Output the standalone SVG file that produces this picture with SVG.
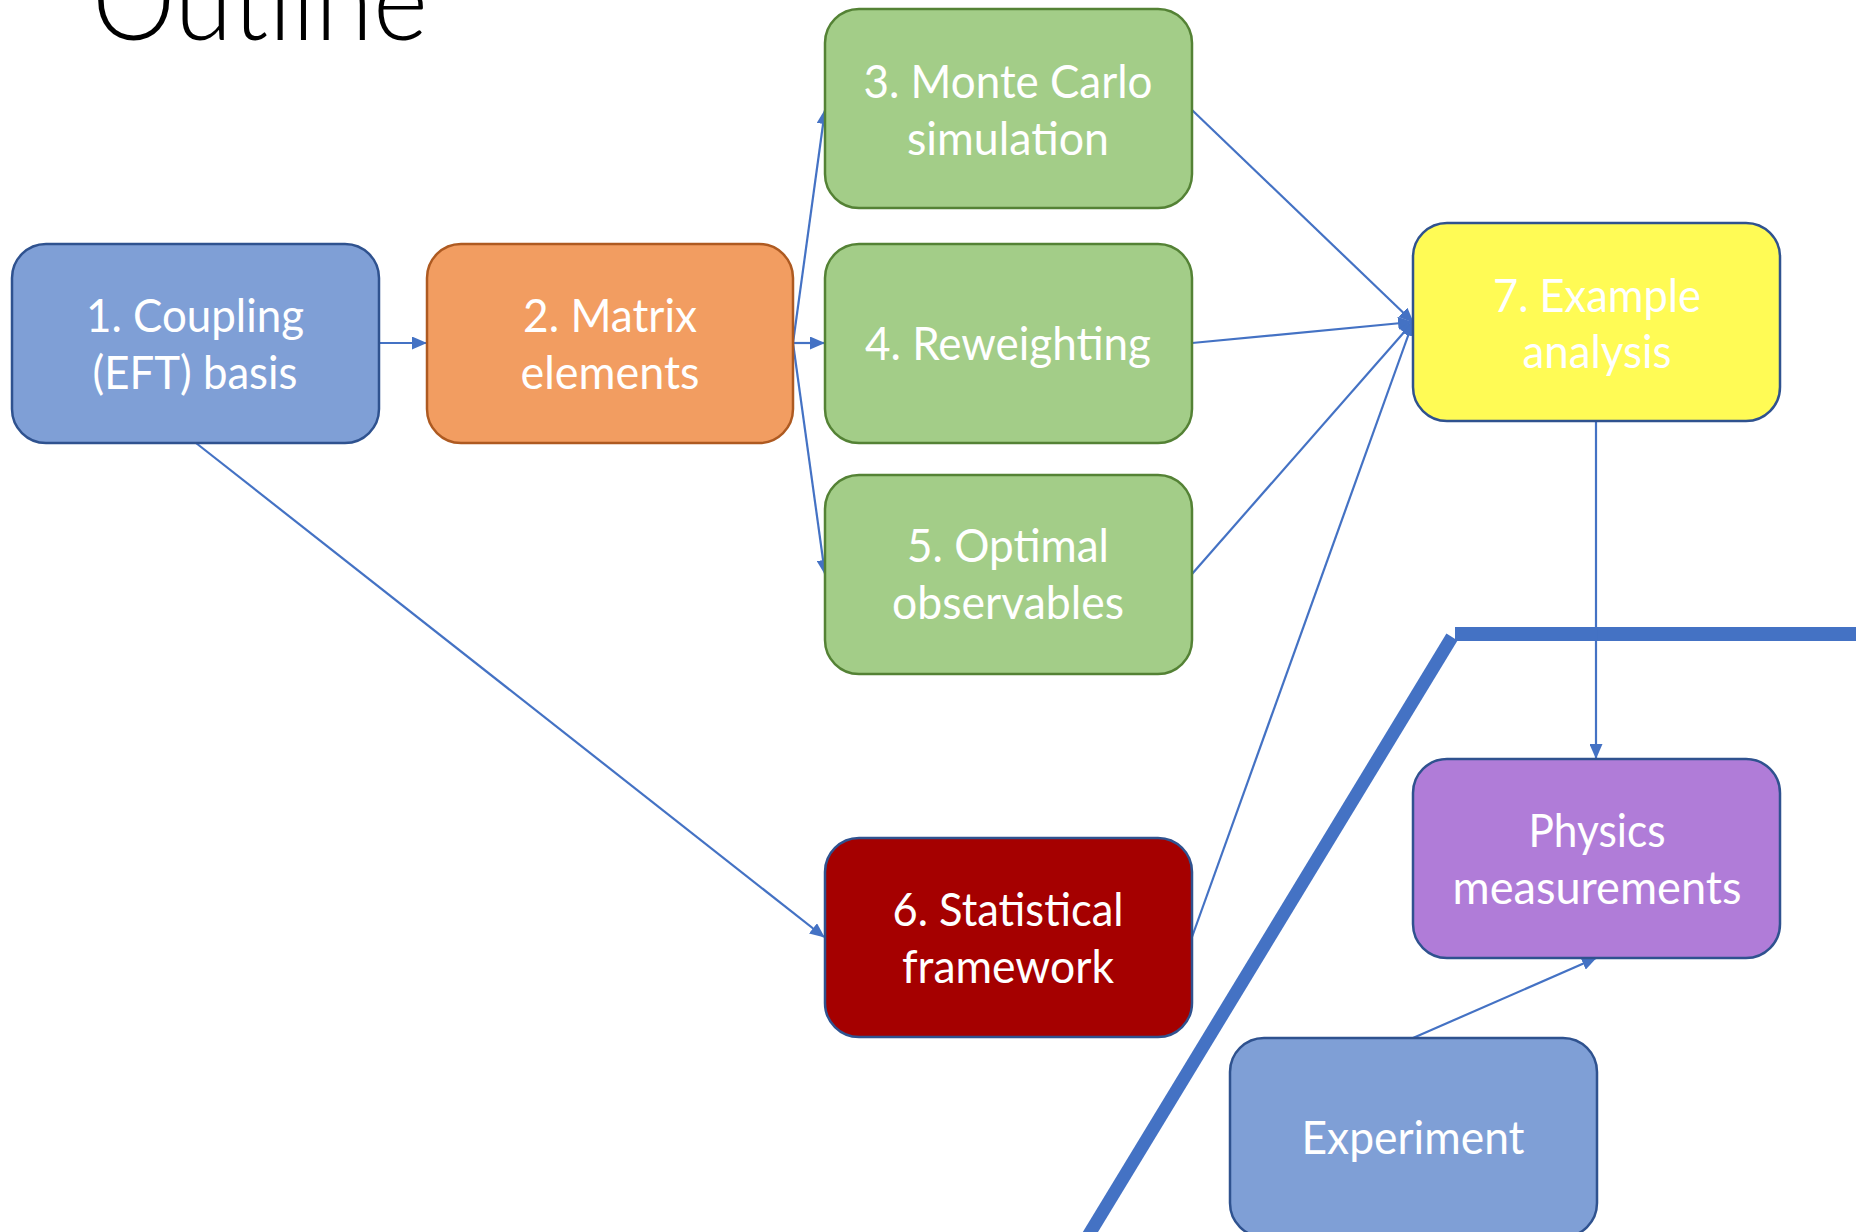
<svg xmlns="http://www.w3.org/2000/svg" width="1856" height="1232" viewBox="0 0 1856 1232">
<style>
.box{stroke-width:2.5}
.lbl{font-family:Lato,"Open Sans","Liberation Sans",sans-serif;font-size:47px;fill:#ffffff;text-anchor:middle}
.con{stroke:#4472C4;stroke-width:2.2;fill:none;marker-end:url(#arr)}
.title{font-family:Lato,"Open Sans","Liberation Sans",sans-serif;font-weight:300;font-size:112px;fill:#000000}
</style>
<defs>
<marker id="arr" markerUnits="userSpaceOnUse" markerWidth="15" markerHeight="13" refX="14" refY="6.5" orient="auto">
<path d="M0,0 L15,6.5 L0,13 z" fill="#4472C4"/>
</marker>
</defs>
<rect width="1856" height="1232" fill="#ffffff"/>
<text class="title" x="92" y="40" textLength="336" lengthAdjust="spacingAndGlyphs">Outline</text>

<g id="divider">
<line x1="1088" y1="1236" x2="1452" y2="637" stroke="#4472C4" stroke-width="13" stroke-linecap="butt"/>
<line x1="1455" y1="634" x2="1856" y2="634" stroke="#4472C4" stroke-width="14" stroke-linecap="butt"/>
</g>

<g id="connectors">
<line class="con" x1="379" y1="343" x2="426" y2="343"/>
<line class="con" x1="793" y1="343" x2="825" y2="110"/>
<line class="con" x1="793" y1="343" x2="824" y2="343"/>
<line class="con" x1="793" y1="343" x2="825" y2="574"/>
<line class="con" x1="1192" y1="110" x2="1413" y2="322"/>
<line class="con" x1="1192" y1="343" x2="1412" y2="322"/>
<line class="con" x1="1192" y1="574" x2="1413" y2="322"/>
<line class="con" x1="1192" y1="937" x2="1413" y2="322"/>
<line class="con" x1="196" y1="443" x2="824" y2="937"/>
<line class="con" x1="1596" y1="421" x2="1596" y2="758"/>
<line class="con" x1="1413" y1="1038" x2="1596" y2="958"/>
</g>

<g id="node1">
<rect class="box" x="12" y="244" width="367" height="199" rx="34" fill="#7F9FD6" stroke="#2F528F"/>
<text class="lbl" x="195" y="332" textLength="218" lengthAdjust="spacingAndGlyphs">1. Coupling</text>
<text class="lbl" x="195" y="389" textLength="205" lengthAdjust="spacingAndGlyphs">(EFT) basis</text>
</g>
<g id="node2">
<rect class="box" x="427" y="244" width="366" height="199" rx="34" fill="#F29D61" stroke="#AE5A21"/>
<text class="lbl" x="610" y="332" textLength="174" lengthAdjust="spacingAndGlyphs">2. Matrix</text>
<text class="lbl" x="610" y="389" textLength="179" lengthAdjust="spacingAndGlyphs">elements</text>
</g>
<g id="node3">
<rect class="box" x="825" y="9" width="367" height="199" rx="34" fill="#A3CD88" stroke="#548235"/>
<text class="lbl" x="1008" y="98" textLength="289" lengthAdjust="spacingAndGlyphs">3. Monte Carlo</text>
<text class="lbl" x="1008" y="155" textLength="202" lengthAdjust="spacingAndGlyphs">simulation</text>
</g>
<g id="node4">
<rect class="box" x="825" y="244" width="367" height="199" rx="34" fill="#A3CD88" stroke="#548235"/>
<text class="lbl" x="1008" y="360" textLength="286" lengthAdjust="spacingAndGlyphs">4. Reweighting</text>
</g>
<g id="node5">
<rect class="box" x="825" y="475" width="367" height="199" rx="34" fill="#A3CD88" stroke="#548235"/>
<text class="lbl" x="1008" y="562" textLength="202" lengthAdjust="spacingAndGlyphs">5. Optimal</text>
<text class="lbl" x="1008" y="619" textLength="232" lengthAdjust="spacingAndGlyphs">observables</text>
</g>
<g id="node6">
<rect class="box" x="825" y="838" width="367" height="199" rx="34" fill="#A50000" stroke="#2F528F"/>
<text class="lbl" x="1008" y="926" textLength="231" lengthAdjust="spacingAndGlyphs">6. Statistical</text>
<text class="lbl" x="1008" y="983" textLength="212" lengthAdjust="spacingAndGlyphs">framework</text>
</g>
<g id="node7">
<rect class="box" x="1413" y="223" width="367" height="198" rx="34" fill="#FFFB55" stroke="#2F528F"/>
<text class="lbl" x="1597" y="312" textLength="208" lengthAdjust="spacingAndGlyphs">7. Example</text>
<text class="lbl" x="1597" y="368" textLength="149" lengthAdjust="spacingAndGlyphs">analysis</text>
</g>
<g id="physics">
<rect class="box" x="1413" y="759" width="367" height="199" rx="34" fill="#B07CD8" stroke="#2F528F"/>
<text class="lbl" x="1597" y="847" textLength="137" lengthAdjust="spacingAndGlyphs">Physics</text>
<text class="lbl" x="1597" y="904" textLength="289" lengthAdjust="spacingAndGlyphs">measurements</text>
</g>
<g id="experiment">
<rect class="box" x="1230" y="1038" width="367" height="199" rx="34" fill="#7F9FD6" stroke="#2F528F"/>
<text class="lbl" x="1413" y="1154" textLength="223" lengthAdjust="spacingAndGlyphs">Experiment</text>
</g>
</svg>
